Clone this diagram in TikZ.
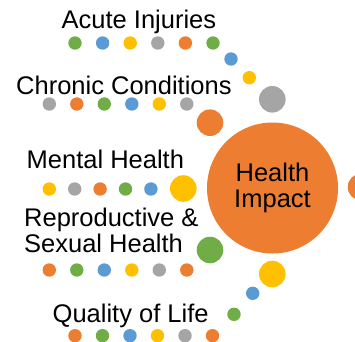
\documentclass[tikz,border=0pt]{standalone}
\usepackage{fontspec}
\setmainfont{Liberation Sans}
\usetikzlibrary{positioning}
\definecolor{horange}{HTML}{ED7D31}
\definecolor{hblue}{HTML}{5B9BD5}
\definecolor{hyellow}{HTML}{FFC000}
\definecolor{hgray}{HTML}{A5A5A5}
\definecolor{hgreen}{HTML}{70AD47}

\begin{document}
\begin{tikzpicture}[x=1pt,y=-1pt,
  dot/.style={circle,inner sep=0pt,minimum size=13.4pt},
  bigdot/.style={circle,inner sep=0pt,minimum size=26.6pt},
  topic/.style={inner sep=0pt,anchor=base west,align=left,font=\fontsize{25.5}{26}\selectfont}]
\useasboundingbox (0,0) rectangle (355,341);
% centre
\node[circle,fill=horange,inner sep=0pt,minimum size=131pt,align=center,
  font=\fontsize{25.5}{26}\selectfont] (impact) at (272.5,188) {Health\\Impact};
\node[bigdot,fill=horange] (rightdot) at (361,187) {};
% topics
\node[topic] (acute) at (61.5,28) {Acute Injuries};
\node[topic] (chronic) at (16,94.3) {Chronic Conditions};
\node[topic] (mental) at (26.5,168) {Mental Health};
\node[topic] (repro) at (24,252.7) {Reproductive \&\\Sexual Health};
\node[topic] (quality) at (52.5,322.3) {Quality of Life};
% rows of dots
\foreach \c [count=\i] in {hgreen,hblue,hyellow,hgray,horange,hgreen}
  \node[dot,fill=\c] (acute\i) at ({75+27.6*(\i-1)},43) {};
\foreach \c [count=\i] in {hgray,horange,hgreen,hblue,hyellow,hgray}
  \node[dot,fill=\c] (chronic\i) at ({49.3+27.5*(\i-1)},104) {};
\foreach \c [count=\i] in {hyellow,hgray,horange,hgreen,hblue}
  \node[dot,fill=\c] (mental\i) at ({49.3+25.4*(\i-1)},189) {};
\foreach \c [count=\i] in {horange,hgreen,hblue,hyellow,hgray,horange}
  \node[dot,fill=\c] (repro\i) at ({49.3+27.5*(\i-1)},270) {};
\foreach \c [count=\i] in {horange,hgreen,hblue,hyellow,hgray,horange}
  \node[dot,fill=\c] (quality\i) at ({75+27.5*(\i-1)},335.7) {};
% arc round the centre
\node[dot,fill=hblue] (arc1) at (231,59) {};
\node[dot,fill=hyellow] (arc2) at (249.3,77.7) {};
\node[bigdot,fill=hgray] (arc3) at (272.3,99.3) {};
\node[bigdot,fill=horange] (arc4) at (210,122.7) {};
\node[bigdot,fill=hyellow] (arc5) at (183.3,188.5) {};
\node[bigdot,fill=hgreen] (arc6) at (210,250) {};
\node[bigdot,fill=hyellow] (arc7) at (272.3,274) {};
\node[dot,fill=hblue] (arc8) at (252.7,293.3) {};
\node[dot,fill=hgreen] (arc9) at (234,314.3) {};
\end{tikzpicture}
\end{document}
